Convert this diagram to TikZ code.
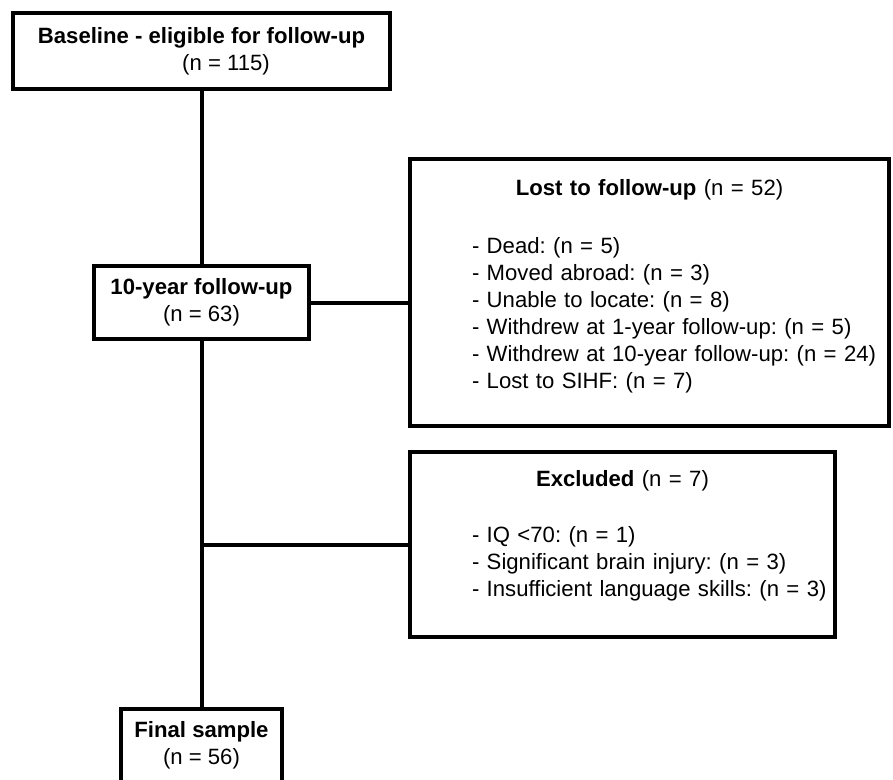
\documentclass[tikz,border=0pt]{standalone}
\usepackage{fontspec}
\setmainfont{Liberation Sans}
\usetikzlibrary{positioning}

\begin{document}
\frenchspacing
\begin{tikzpicture}[
		x = 0.75pt, y = -0.75pt, % one unit = one pixel
		line width = 3pt, % boxes and lines
		font = \fontsize{16.6pt}{20.25pt}\selectfont
		]
		
		\tikzstyle{box}=[
		draw = black,
		rectangle,
		align = center,
		inner sep = 0pt
		]
		\tikzstyle{listbox}=[
		box,
		align = left,
		anchor = north
		]
		
		\useasboundingbox (0,0) rectangle (893,779);
		
		\node[box, minimum width = 282.75pt, minimum height = 57pt] (base) at (201.5,51)
			{\textbf{Baseline - eligible for follow-up}\\\hspace*{36.75pt}(n = 115)};
		\node[box, minimum width = 161.25pt, minimum height = 54.75pt] (ten) at (201.5,302.5)
			{\textbf{10-year follow-up}\\(n = 63)};
		\node[box, minimum width = 120.75pt, minimum height = 54.75pt] (final) at (201.5,745.5)
			{\textbf{Final sample}\\(n = 56)};
		
		\node[listbox, text width = 359.25pt, text height = 27pt, text depth = 173.25pt] (lost) at (649.5,157)
			{\makebox[\linewidth]{\textbf{Lost to follow-up} (n = 52)}\\[23.25pt]
			\hspace*{46.5pt}- Dead: (n = 5)\\
			\hspace*{46.5pt}- Moved abroad: (n = 3)\\
			\hspace*{46.5pt}- Unable to locate: (n = 8)\\
			\hspace*{46.5pt}- Withdrew at 1-year follow-up: (n = 5)\\
			\hspace*{46.5pt}\mbox{- Withdrew at 10-year follow-up: (n = 24)}\\
			\hspace*{46.5pt}- Lost to SIHF: (n = 7)};
		\node[listbox, text width = 318.75pt, text height = 25.5pt, text depth = 113.25pt] (excl) at (622.5,450)
			{\makebox[\linewidth]{\textbf{Excluded} (n = 7)}\\[21.75pt]
			\hspace*{46.5pt}- IQ <70: (n = 1)\\
			\hspace*{46.5pt}- Significant brain injury: (n = 3)\\
			\hspace*{46.5pt}\mbox{- Insufficient language skills: (n = 3)}};
		
		\draw (base) -- (ten);
		\draw (ten) -- (final);
		\draw (ten.east) -- (ten.east -| lost.west);
		\draw (excl.west -| ten.south) -- (excl.west);
		\end{tikzpicture}
\end{document}
